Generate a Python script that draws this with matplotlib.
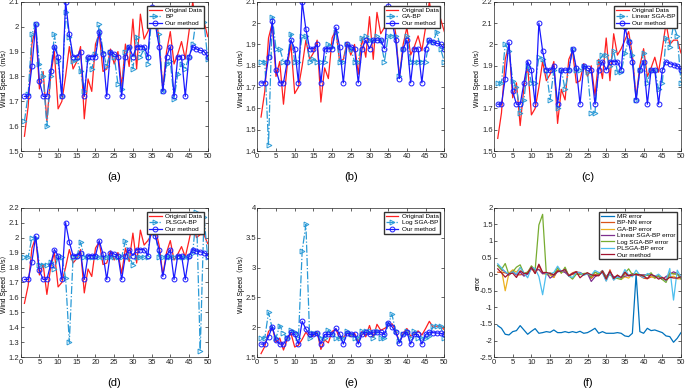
import numpy as np
import matplotlib.pyplot as plt
from matplotlib.ticker import FormatStrFormatter

# =============================================================================
# Data

x = np.arange(1, 51)

original = [1.56, 1.68, 1.93, 2.00, 1.75, 1.82, 1.62, 1.80, 1.90, 1.67,
            1.70, 1.80, 1.92, 1.83, 1.86, 1.92, 1.63, 1.79, 1.74, 1.93,
            1.97, 1.82, 1.83, 1.91, 1.85, 1.90, 1.76, 1.93, 1.84, 2.03,
            1.83, 2.05, 1.95, 1.98, 2.02, 2.06, 1.95, 1.75, 1.90, 1.98,
            1.85, 1.89, 1.94, 1.87, 1.98, 2.10, 2.00, 2.02, 2.02, 1.96]

ours = [1.72, 1.72, 1.84, 2.01, 1.78, 1.72, 1.72, 1.82, 1.92, 1.88,
        1.72, 2.10, 1.97, 1.88, 1.88, 1.90, 1.72, 1.88, 1.88, 1.88,
        1.98, 1.89, 1.72, 1.90, 1.89, 1.88, 1.72, 1.88, 1.92, 1.88,
        1.92, 1.92, 1.92, 1.88, 2.08, 2.01, 1.92, 1.74, 1.88, 1.92,
        1.72, 1.88, 1.88, 1.72, 1.88, 1.92, 1.91, 1.905, 1.90, 1.88]

bp = [1.62, 1.73, 1.97, 2.01, 1.85, 1.80, 1.60, 1.80, 1.97, 1.86,
      1.72, 2.06, 1.96, 1.86, 1.87, 1.82, 1.74, 1.87, 1.83, 1.89,
      2.01, 1.90, 1.84, 1.90, 1.88, 1.77, 1.75, 1.90, 1.92, 1.83,
      1.96, 1.88, 1.91, 1.85, 2.04, 2.01, 1.97, 1.74, 1.85, 1.86,
      1.71, 1.81, 1.85, 1.83, 1.88, 1.93, 2.04, 2.03, 2.02, 1.87]

ga_bp = [1.82, 1.82, 1.43, 2.03, 1.88, 1.88, 1.82, 1.82, 1.95, 1.82,
         1.82, 1.94, 1.94, 1.82, 1.83, 1.82, 1.82, 1.82, 1.90, 1.89,
         1.96, 1.82, 1.82, 1.90, 1.88, 1.82, 1.82, 1.93, 1.94, 1.92,
         1.92, 1.94, 1.92, 1.82, 1.94, 1.94, 1.94, 1.75, 1.88, 1.94,
         1.82, 1.82, 1.82, 1.82, 1.82, 1.92, 1.91, 1.96, 1.88, 1.82]

linear_sga = [1.82, 1.82, 2.00, 1.97, 1.83, 1.80, 1.68, 1.74, 1.90, 1.82,
              1.82, 1.94, 1.93, 1.88, 1.74, 1.88, 1.70, 1.88, 1.79, 1.88,
              1.98, 1.88, 1.88, 1.90, 1.87, 1.68, 1.68, 1.92, 1.95, 1.95,
              1.90, 1.97, 1.87, 1.87, 1.96, 2.02, 1.95, 1.74, 1.88, 1.96,
              1.82, 1.88, 1.88, 1.79, 1.82, 2.03, 1.99, 2.09, 2.04, 1.82]

plsga = [1.87, 1.87, 2.00, 2.00, 1.82, 1.82, 1.82, 1.84, 1.79, 1.87,
         1.87, 1.73, 1.30, 1.87, 1.87, 1.97, 1.87, 1.87, 1.87, 1.87,
         1.87, 1.87, 1.87, 1.87, 1.87, 1.87, 1.87, 1.98, 1.87, 1.82,
         1.87, 1.87, 1.87, 1.87, 2.16, 2.03, 1.87, 1.87, 1.87, 1.87,
         1.87, 1.87, 1.87, 1.87, 1.87, 1.90, 2.17, 1.24, 2.14, 1.87]

log_sga = [1.82, 1.82, 2.25, 1.98, 1.82, 2.03, 1.90, 1.82, 1.95, 1.92,
           1.82, 3.28, 3.72, 1.82, 1.90, 1.90, 1.82, 1.82, 1.95, 1.88,
           1.82, 1.82, 1.82, 1.93, 1.88, 1.82, 1.82, 1.93, 1.93, 1.93,
           1.82, 1.93, 1.82, 1.82, 2.05, 2.22, 1.93, 1.77, 1.88, 1.93,
           1.82, 1.93, 1.82, 1.82, 1.82, 1.85, 2.02, 2.03, 2.02, 1.82]

mr_error = [-1.55, -1.63, -1.81, -1.83, -1.73, -1.70, -1.55, -1.68, -1.81, -1.72,
            -1.64, -1.78, -1.76, -1.73, -1.75, -1.68, -1.76, -1.76, -1.73, -1.76,
            -1.73, -1.76, -1.72, -1.78, -1.76, -1.70, -1.63, -1.78, -1.73, -1.78,
            -1.78, -1.78, -1.76, -1.78, -1.86, -1.88, -1.78, 0.0, -1.73, -1.78,
            -1.63, -1.70, -1.68, -1.72, -1.76, -1.86, -1.88, -2.05, -1.93, -1.76]

panel_names = ["BP", "GA-BP", "Linear SGA-BP", "PLSGA-BP", "Log SGA-BP"]
panel_series = [bp, ga_bp, linear_sga, plsga, log_sga]
panel_ylims = [(1.5, 2.1), (1.4, 2.1), (1.5, 2.2), (1.2, 2.2), (1.5, 4.0)]
panel_ysteps = [0.1, 0.1, 0.1, 0.1, 0.5]
captions = ["(a)", "(b)", "(c)", "(d)", "(e)", "(f)"]

error_names = ["MR error", "BP-NN error", "GA-BP error", "Linear SGA-BP error",
               "Log SGA-BP error", "PLSGA-BP error", "Our method"]
error_colors = ["#0072BD", "#D95319", "#EDB120", "#7E2F8E",
                "#77AC30", "#4DBEEE", "#A2142F"]

# =============================================================================
# Plot

W, H = 685, 389
fg = plt.figure(figsize=(W / 100, H / 100), dpi=100)
plt.rcParams["font.family"] = ["Liberation Sans", "Noto Sans CJK SC"]

lefts = [20.7, 257.3, 494.0]
tops = [1.7, 207.7]
aw, ah = 187.0, 149.5

axs = []
for r in range(2):
    for c in range(3):
        ax = fg.add_axes([lefts[c] / W, 1 - (tops[r] + ah) / H, aw / W, ah / H])
        axs.append(ax)

LEG = dict(loc="upper right", fontsize=4.6, handlelength=2.0, borderpad=0.3,
           labelspacing=0.15, handletextpad=0.5, fancybox=False,
           edgecolor="#333333", framealpha=1, borderaxespad=0.6)

pred_color = "#2a9ad6"
for i, ax in enumerate(axs[:5]):
    ax.plot(x, original, "-", color="#ff2020", lw=0.9, label="Original Data")
    ax.plot(x, panel_series[i], "-.", color=pred_color, lw=0.9, marker=">",
            ms=3.5, mfc="none", mew=0.7, label=panel_names[i])
    ax.plot(x, ours, "-", color="#1a1aff", lw=0.9, marker="o", ms=3.5,
            mfc="none", mew=0.7, label="Our method")
    lo, hi = panel_ylims[i]
    ax.set_ylim(lo, hi)
    ax.set_yticks(np.arange(lo, hi + 1e-6, panel_ysteps[i]))
    ax.set_ylabel("Wind Speed（m/s）", fontsize=4.9)
    ax.legend(**LEG)

ax = axs[5]
errors = [mr_error] + [np.array(s) - np.array(original)
                       for s in [bp, ga_bp, linear_sga, log_sga, plsga, ours]]
for err, name, col in zip(errors, error_names, error_colors):
    ax.plot(x, err, "-", color=col, lw=0.9, label=name)
ax.set_ylim(-2.5, 2)
ax.set_yticks(np.arange(-2.5, 2.01, 0.5))
ax.set_ylabel("error", fontsize=4.9)
ax.legend(**LEG)

for ax, cap in zip(axs, captions):
    ax.set_xlim(0, 50)
    ax.set_xticks(np.arange(0, 51, 5))
    ax.yaxis.set_major_formatter(FormatStrFormatter("%g"))
    ax.yaxis.set_label_coords(-0.068, 0.5)
    ax.tick_params(axis="both", which="major", labelsize=5.5, direction="in",
                   length=2, width=0.5, top=True, right=True, pad=1.0,
                   colors="#262626")
    for sp in ax.spines.values():
        sp.set_linewidth(0.5)
        sp.set_color("#262626")
    pos = ax.get_position()
    fg.text(pos.x0 + pos.width / 2, pos.y0 - 26 / H, cap, ha="center",
            va="center", fontsize=8)

fg.savefig("out.png", dpi=100)
